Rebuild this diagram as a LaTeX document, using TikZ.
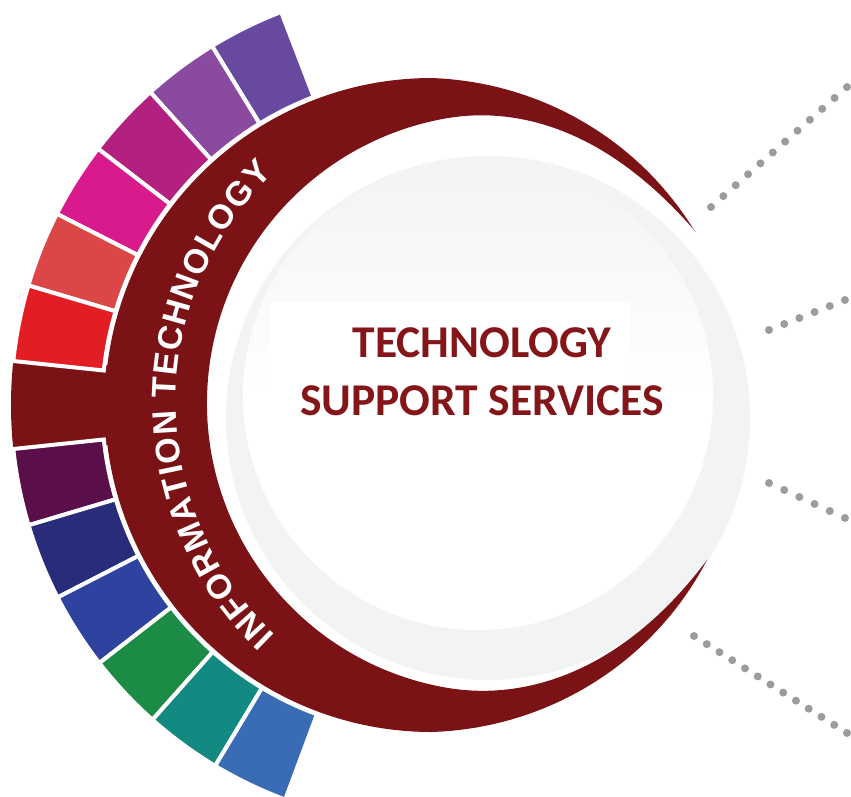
\documentclass[tikz,border=0pt]{standalone}
\usepackage{fontspec}
\newfontfamily\titlefont{Carlito}
\newfontfamily\bandfont{Liberation Sans}
\usetikzlibrary{calc,decorations.text}
\definecolor{crim}{HTML}{7B1216}
\definecolor{titlered}{HTML}{84161A}
\definecolor{ringgray}{HTML}{F2F3F5}
\definecolor{innergray}{HTML}{F2F3F5}
\definecolor{dotgray}{HTML}{9C9C9C}
\definecolor{sv1}{HTML}{6849A0}
\definecolor{sv2}{HTML}{8A4A9F}
\definecolor{sv3}{HTML}{B2217F}
\definecolor{sv4}{HTML}{D91A8C}
\definecolor{sv5}{HTML}{DB4646}
\definecolor{sv6}{HTML}{E31D24}
\definecolor{sl1}{HTML}{5A0E4A}
\definecolor{sl2}{HTML}{292B7B}
\definecolor{sl3}{HTML}{2E43A0}
\definecolor{sl4}{HTML}{1C8B45}
\definecolor{sl5}{HTML}{128A82}
\definecolor{sl6}{HTML}{3A6CB6}
\begin{document}
\begin{tikzpicture}[x=1pt,y=1pt,
  seg/.style={draw=white, line width=4pt, line join=miter},
  ttl/.style={font=\titlefont\bfseries\fontsize{45.5}{45.5}\selectfont, text=titlered, inner sep=0pt},
  dotline/.style={draw=dotgray, line width=8pt, line cap=round}]
\useasboundingbox (0,0) rectangle (851,-797);
\fill[white] (0,0) rectangle (851,-797);
\coordinate (C) at (432,-405);
\coordinate (O2) at (496,-403);
% inner disk
\fill[ringgray] (488,-418) circle[radius=262];
\shade[top color=innergray, bottom color=white, middle color=white] (478,-395) circle[radius=235];
\fill[white] (270,-302) rectangle (630,-470);
% red crescent
\fill[crim]
  plot[domain=33.3:90, samples=40, variable=\t]
    ({432+(315+12*(\t-33.3)/56.7)*cos(\t)}, {-405+(315+12*(\t-33.3)/56.7)*sin(\t)})
  arc[start angle=90, end angle=270, radius=327]
  -- plot[domain=270:330.6, samples=40, variable=\t]
    ({432+(327-11.3*(\t-270)/60.6)*cos(\t)}, {-405+(327-11.3*(\t-270)/60.6)*sin(\t)})
  -- plot[domain=323.3:260, samples=40, variable=\t]
    ({496+(263+13*(1-cos(180*(323.3-\t)/63.3)))*cos(\t)}, {-403+(263+13*(1-cos(180*(323.3-\t)/63.3)))*sin(\t)})
  arc[start angle=260, end angle=100, radius=289]
  -- plot[domain=100:40.7, samples=40, variable=\t]
    ({496+(263+13*(1-cos(180*(\t-40.7)/59.3)))*cos(\t)}, {-403+(263+13*(1-cos(180*(\t-40.7)/59.3)))*sin(\t)})
  -- cycle;
% red tab
\fill[crim] ($(C)+(173:300)$) arc[start angle=173, end angle=187, radius=300] -- ($(C)+(187:421)$) arc[start angle=187, end angle=173, radius=421] -- cycle;
% segments
\foreach \a/\b/\c in {111/121.5/sv1, 121.5/132/sv2, 132/142.5/sv3, 142.5/153/sv4, 153/163.5/sv5, 163.5/174/sv6, 186/196.6/sl1, 196.6/207.2/sl2, 207.2/217.8/sl3, 217.8/228.4/sl4, 228.4/239/sl5, 239/249.6/sl6}
  \filldraw[seg, fill=\c] ($(C)+(\a:330)$) arc[start angle=\a, end angle=\b, radius=330] -- ($(C)+(\b:421)$) arc[start angle=\b, end angle=\a, radius=421] -- cycle;
% band text
{\bandfont\bfseries\fontsize{34}{34}\selectfont
\path[decorate, decoration={text along path, text align={fit to path}, text color=white,
  text={INFORMATION TECHNOLOGY}}]
  ($(O2)+(226.5:320)$) arc[start angle=226.5, end angle=134.2, radius=320];
}
% title
\node[ttl, anchor=base] (t1) at (482,-357) {TECHNOLOGY};
\node[ttl, anchor=base] (t2) at (482,-415) {SUPPORT SERVICES};
% dotted connectors
\coordinate (d1s) at (711,-207); \coordinate (d1e) at (847,-87);
\coordinate (d2s) at (769,-330); \coordinate (d2e) at (845,-300);
\coordinate (d3s) at (769,-483); \coordinate (d3e) at (845,-518);
\coordinate (d4s) at (694,-636); \coordinate (d4e) at (847,-733);
\draw[dotline, dash pattern=on 0pt off 16.48pt] (d1s) -- (d1e);
\draw[dotline, dash pattern=on 0pt off 16.33pt] (d2s) -- (d2e);
\draw[dotline, dash pattern=on 0pt off 16.72pt] (d3s) -- (d3e);
\draw[dotline, dash pattern=on 0pt off 15.09pt] (d4s) -- (d4e);
\end{tikzpicture}
\end{document}
